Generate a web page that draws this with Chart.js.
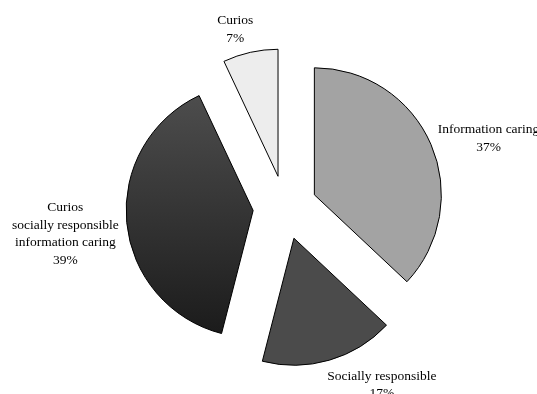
<!DOCTYPE html>
<html>
<head>
<meta charset="utf-8">
<script src="https://cdn.jsdelivr.net/npm/chart.js@4.4.1/dist/chart.umd.min.js"></script>
<style>
  html, body { margin: 0; padding: 0; background: #fff; }
</style>
</head>
<body>
<canvas id="pie" width="537" height="394"></canvas>
<script>
// Dados (sentido horário a partir do topo)
const labels = [
  ['Information caring'],
  ['Socially responsible'],
  ['Curios', 'socially responsible', 'information caring'],
  ['Curios']
];
const percents = [37, 17, 39, 7];
const colors = ['#a3a3a3', '#4b4b4b', null, '#ededed'];

const FONT = '13.5px "Liberation Serif", "Times New Roman", serif';
const LINE_H = 17.5;
const EXPLODE = 32; // afastamento de cada fatia, em px
const RADIUS = 127;

// Gradiente vertical da fatia grande (escuro em baixo)
function sliceColor(context) {
  const i = context.dataIndex;
  if (colors[i]) return colors[i];
  const { ctx, chartArea } = context.chart;
  if (!chartArea) return '#333';
  const g = ctx.createLinearGradient(0, 92, 0, 332);
  g.addColorStop(0, '#4d4d4d');
  g.addColorStop(1, '#1b1b1b');
  return g;
}

// Desenha cada fatia deslocada para fora (pizza "explodida")
const explodedSlices = {
  id: 'explodedSlices',
  beforeDatasetDraw(chart, args) {
    const ctx = chart.ctx;
    args.meta.data.forEach(arc => {
      const mid = (arc.startAngle + arc.endAngle) / 2;
      ctx.save();
      ctx.translate(Math.cos(mid) * EXPLODE, Math.sin(mid) * EXPLODE);
      arc.draw(ctx);
      ctx.restore();
    });
    return false;
  }
};

// Rótulos fora das fatias, estilo Excel
const outsideLabels = {
  id: 'outsideLabels',
  afterDatasetsDraw(chart) {
    const ctx = chart.ctx;
    const meta = chart.getDatasetMeta(0);
    ctx.save();
    ctx.font = FONT;
    ctx.fillStyle = '#000';
    ctx.textBaseline = 'middle';
    ctx.textAlign = 'center';
    meta.data.forEach((arc, i) => {
      const mid = (arc.startAngle + arc.endAngle) / 2;
      const dx = Math.cos(mid), dy = Math.sin(mid);
      const dist = arc.outerRadius + EXPLODE;
      const px = arc.x + dx * dist;
      const py = arc.y + dy * dist;
      const lines = labels[i].concat([percents[i] + '%']);
      const w = Math.max(...lines.map(l => ctx.measureText(l).width));
      const h = lines.length * LINE_H;
      const g = 8 * dx - Math.sign(dx) * 6 * (1 - Math.abs(dx));
      const cx = dx >= 0 ? px + g + w / 2 : px + g - w / 2;
      const cy = py + dy * (h / 2 + 7) + 8 * Math.pow(1 - Math.abs(dy), 2) + 1;
      lines.forEach((l, k) => {
        ctx.fillText(l, cx, cy - h / 2 + LINE_H * (k + 0.5));
      });
    });
    ctx.restore();
  }
};

new Chart(document.getElementById('pie'), {
  type: 'pie',
  data: {
    labels: labels.map(l => l.join(' ')),
    datasets: [{
      data: percents,
      backgroundColor: sliceColor,
      borderColor: '#000',
      borderWidth: 1,
      offset: 0,
      hoverOffset: 0
    }]
  },
  options: {
    responsive: false,
    animation: false,
    radius: RADIUS,
    layout: { padding: { left: 33, right: 0, top: 21, bottom: 0 } },
    plugins: {
      legend: { display: false },
      tooltip: { enabled: false }
    }
  },
  plugins: [explodedSlices, outsideLabels]
});
</script>
</body>
</html>
